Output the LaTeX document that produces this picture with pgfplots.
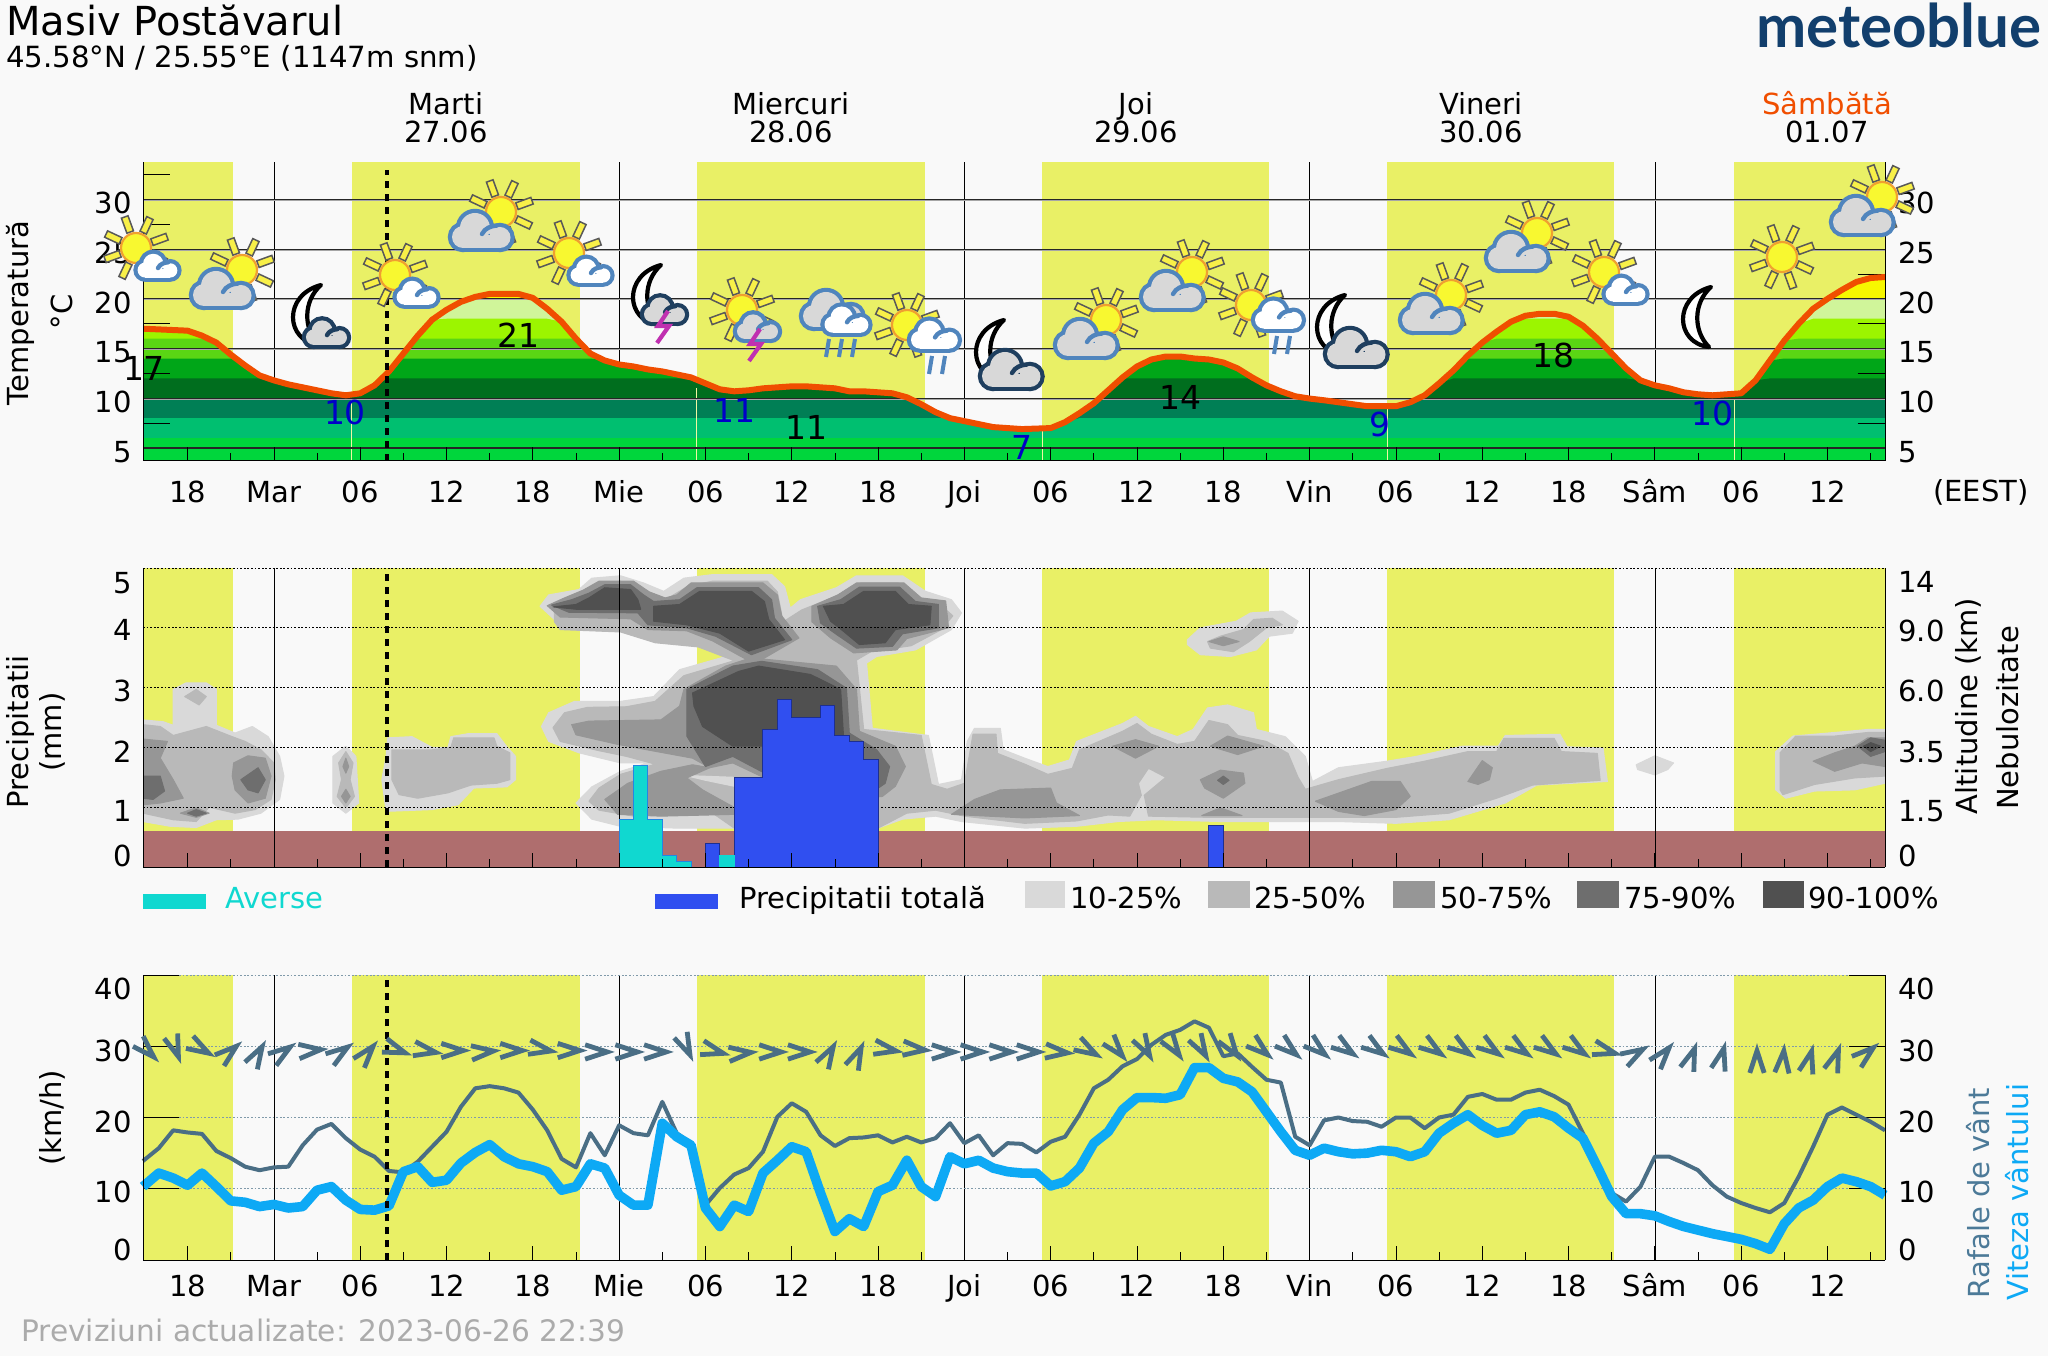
\documentclass[border=0pt]{standalone}
\usepackage{fontspec}
\setmainfont{DejaVu Sans}
\newfontfamily\logofont{Lato}[Scale=1.0]
\usepackage{pgfplots}
\usepackage{pgfplotstable}
\pgfplotsset{compat=1.18}
\definecolor{bgc}{HTML}{F9F9F9}
\definecolor{yband}{HTML}{E9F066}
\definecolor{tline}{HTML}{F04E00}
\definecolor{g1}{HTML}{F7F700}
\definecolor{g2}{HTML}{D0F59A}
\definecolor{g3}{HTML}{9CF500}
\definecolor{g4}{HTML}{5AD614}
\definecolor{g5}{HTML}{00A618}
\definecolor{g6}{HTML}{006E1E}
\definecolor{g7}{HTML}{007F55}
\definecolor{g8}{HTML}{00BF70}
\definecolor{g9}{HTML}{00D63C}
\definecolor{c1}{HTML}{D9D9D9}
\definecolor{c2}{HTML}{B9B9B9}
\definecolor{c3}{HTML}{969696}
\definecolor{c4}{HTML}{6E6E6E}
\definecolor{c5}{HTML}{505050}
\definecolor{brown}{HTML}{AF6E6E}
\definecolor{ptot}{HTML}{304FF0}
\definecolor{psho}{HTML}{10D8D0}
\definecolor{gustc}{HTML}{4A6E85}
\definecolor{windc}{HTML}{0DA9F5}
\definecolor{rafc}{HTML}{4C7A98}
\definecolor{cloudb}{HTML}{5085BD}
\definecolor{cloudd}{HTML}{1F3F5F}
\definecolor{cloudg}{HTML}{D8D8D8}
\definecolor{logoc}{HTML}{123F6D}
\definecolor{boltc}{HTML}{C030B0}
\definecolor{blueval}{HTML}{0000C8}
\definecolor{sunc}{HTML}{F8F830}
\definecolor{sunr}{HTML}{F8F048}
\definecolor{suno}{HTML}{F0A030}

\pgfplotstableread{
h T
-9.1 17.0
-6 16.8
-5 16.3
-4 15.6
-3 14.4
-2 13.3
-1 12.3
0 11.8
1 11.4
2 11.1
3 10.8
4 10.5
5 10.3
6 10.5
7 11.3
8 12.7
9 14.5
10 16.3
11 17.9
12 18.9
13 19.7
14 20.2
15 20.5
16 20.5
17 20.5
18 20.1
19 19.0
20 17.7
21 16.0
22 14.5
23 13.8
24 13.4
25 13.2
26 12.9
27 12.7
28 12.4
29 12.1
30 11.5
31 10.9
32 10.7
33 10.8
34 11.0
35 11.1
36 11.2
37 11.2
38 11.1
39 11.0
40 10.7
41 10.7
42 10.6
43 10.5
44 10.1
45 9.4
46 8.6
47 8.0
48 7.7
49 7.4
50 7.1
51 7.0
52 6.9
53 6.95
54 7.0
55 7.6
56 8.5
57 9.5
58 10.8
59 12.1
60 13.2
61 13.9
62 14.2
63 14.2
64 14.0
65 13.9
66 13.6
67 13.0
68 12.1
69 11.3
70 10.7
71 10.2
72 9.97
73 9.8
74 9.6
75 9.4
76 9.2
77 9.2
78 9.2
79 9.6
80 10.3
81 11.5
82 12.8
83 14.3
84 15.6
85 16.7
86 17.7
87 18.3
88 18.5
89 18.5
90 18.2
91 17.3
92 16.0
93 14.5
94 13.0
95 11.8
96 11.3
97 11.0
98 10.6
99 10.4
100 10.3
101 10.4
102 10.5
103 11.8
104 13.8
105 15.8
106 17.5
107 19.0
108 20.0
109 20.9
110 21.7
111 22.1
112 22.2
}\temptable

\pgfplotstableread{
h gust wind
-9.1 13.9 10.3
-8 15.7 12.2
-7 18.2 11.5
-6 17.9 10.5
-5 17.7 12.2
-4 15.3 10.3
-3 14.3 8.3
-2 13.1 8.1
-1 12.6 7.5
0 13.0 7.8
1 13.1 7.3
2 16.1 7.5
3 18.3 9.8
4 19.1 10.3
5 17.1 8.4
6 15.5 7.1
7 14.5 7.0
8 12.5 7.6
9 12.3 12.4
10 13.8 13.1
11 15.9 10.9
12 18.0 11.2
13 21.5 13.6
14 24.1 15.1
15 24.4 16.2
16 24.1 14.5
17 23.5 13.5
18 21.1 13.1
19 18.2 12.4
20 14.2 9.8
21 13.0 10.3
22 17.8 13.5
23 14.7 12.9
24 18.9 9.1
25 17.8 7.7
26 17.5 7.7
27 22.2 19.2
28 17.8 17.3
29 16.4 16.1
30 7.7 7.3
31 10.1 4.7
32 12.0 7.7
33 12.9 6.8
34 15.2 12.2
35 20.1 14.0
36 22.0 15.9
37 20.8 15.2
38 17.5 9.4
39 16.0 4.0
40 17.1 5.8
41 17.2 4.7
42 17.5 9.6
43 16.5 10.5
44 17.3 14.0
45 16.5 10.3
46 17.1 8.9
47 19.2 14.5
48 16.4 13.5
49 17.5 14.0
50 14.7 12.9
51 16.4 12.4
52 16.3 12.2
53 15.1 12.2
54 16.6 10.4
55 17.3 11.0
56 20.4 12.9
57 24.1 16.4
58 25.3 18.0
59 27.2 21.1
60 28.2 22.8
61 30.2 22.8
62 31.6 22.7
63 32.3 23.2
64 33.5 27.0
65 32.6 27.0
66 28.6 25.5
67 29.0 25.0
68 27.1 23.6
69 25.3 20.8
70 24.9 18.0
71 17.3 15.4
72 16.1 14.7
73 19.6 15.7
74 20.0 15.2
75 19.5 14.9
76 19.4 15.0
77 18.7 15.4
78 20.0 15.2
79 20.0 14.5
80 18.5 15.2
81 20.0 17.8
82 20.4 19.2
83 22.9 20.4
84 23.3 18.9
85 22.5 17.8
86 22.5 18.2
87 23.5 20.4
88 23.9 20.8
89 23.0 20.1
90 21.8 18.5
91 17.8 17.1
92 13.6 13.1
93 9.4 8.9
94 8.2 6.5
95 10.3 6.5
96 14.5 6.2
97 14.5 5.4
98 13.6 4.7
99 12.6 4.2
100 10.5 3.7
101 8.9 3.3
102 8.0 2.9
103 7.3 2.3
104 6.7 1.5
105 8.0 5.1
106 11.7 7.3
107 15.9 8.4
108 20.4 10.3
109 21.4 11.5
110 20.4 11.0
111 19.4 10.3
112 18.2 9.1
}\windtable

\pgfplotstableread{
h y a
-8.9 29.6 -45
-6.9 30.0 -70
-5.2 29.8 -30
-3.2 29.0 40
-1.2 28.6 60
0.5 29.0 35
2.5 29.4 5
4.5 29.0 35
6.4 28.8 50
8.4 29.6 -20
10.5 29.4 -10
12.4 29.4 0
14.5 29.2 5
16.5 29.4 0
18.5 29.6 -10
20.5 29.4 0
22.4 29.2 0
24.5 29.2 0
26.5 29.2 0
28.6 30.2 -65
30.5 29.4 -15
32.4 29.0 5
34.5 29.2 0
36.5 29.2 0
38.5 28.6 60
40.5 28.4 65
42.5 29.6 -10
44.5 29.6 -5
46.5 29.2 0
48.5 29.2 0
50.5 29.2 0
52.4 29.2 0
54.4 29.2 -5
56.5 29.6 -30
58.5 29.8 -50
60.5 30.0 -60
62.5 30.0 -55
64.4 30.0 -60
66.5 30.0 -55
68.5 29.8 -40
70.5 29.8 -40
72.5 29.8 -40
74.4 29.8 -35
76.5 29.8 -35
78.4 29.8 -35
80.5 29.8 -35
82.5 29.8 -35
84.5 29.8 -35
86.5 29.8 -35
88.5 29.8 -35
90.5 29.8 -35
92.5 29.4 -15
94.5 28.8 30
96.5 28.6 50
98.5 28.2 70
100.6 28.2 75
103.1 27.8 90
104.9 27.8 85
106.7 27.8 75
108.5 28.0 70
110.6 28.8 40
}\chevtable

\pgfdeclareplotmark{chev}{%
  \pgfpathmoveto{\pgfpoint{-5.5pt}{3.6pt}}%
  \pgfpathlineto{\pgfpoint{5.5pt}{0pt}}%
  \pgfpathlineto{\pgfpoint{-5.5pt}{-3.6pt}}%
  \pgfusepathqstroke}

\pgfplotsset{
  base/.style={scale only axis,width=871pt,xmin=-9.1,xmax=112,anchor=south west,
    axis on top,tick align=inside,
    axis line style={black,line width=.5pt},
    tick label style={font=\fontsize{14.5}{16}\selectfont},
    xtick={-6,0,6,12,18,24,30,36,42,48,54,60,66,72,78,84,90,96,102,108},
    xticklabels={18,Mar,06,12,18,Mie,06,12,18,Joi,06,12,18,Vin,06,12,18,Sâm,06,12},
    minor xtick={-3,3,9,15,21,27,33,39,45,51,57,63,69,75,81,87,93,99,105,111},
    major tick length=7pt,minor tick length=4pt,
    xtick style={black,line width=.4pt},
    minor x tick style={black,line width=.4pt},
    ytick style={draw=none},
    yticklabel style={inner sep=0pt,anchor=east,xshift=-5.5pt},
    xticklabel style={inner sep=0pt,anchor=north,text height=10.5pt,text depth=0pt},
    axis x line*=bottom,axis y line*=left},
  rightax/.style={scale only axis,width=871pt,xmin=-9.1,xmax=112,anchor=south west,
    axis x line=none,axis y line*=right,
    axis line style={black,line width=.5pt},
    tick label style={font=\fontsize{14.5}{16}\selectfont},
    ytick style={draw=none},
    yticklabel style={inner sep=0pt,anchor=west,xshift=6.5pt}}
}
\newcommand\yb[2]{\addplot[fill=yband,draw=none,forget plot] coordinates {(#1,\yl)(#2,\yl)(#2,\yh)(#1,\yh)} --cycle;}
\newcommand\ybands{\yb{-9.1}{-2.85}\yb{5.4}{21.26}\yb{29.4}{45.25}\yb{53.4}{69.2}\yb{77.4}{93.15}\yb{101.5}{112}}
\newcommand\vl[1]{\addplot[black,line width=.35pt,forget plot] coordinates {(#1,\yl)(#1,\yh)};}
\newcommand\vls{\vl{0}\vl{24}\vl{48}\vl{72}\vl{96}}
\tikzset{nowstyle/.style={black,line width=1.7pt,dash pattern=on 3.5pt off 3pt}}
\newcommand\cl[2]{\addplot[fill=#1,draw=#1,line width=.5pt,line join=round,forget plot] coordinates {#2} --cycle;}
\newcommand\hl[2]{\addplot[#2,forget plot] coordinates {(-9.1,#1)(112,#1)};}
\newcommand\area[2]{\addplot[fill=#1,draw=none,forget plot] table[x=h,y expr={min(\thisrow{T},#2)}] {\temptable} \closedcycle;}

% icons (pixel frame of the picture)
\newcommand\sunic[3][1]{\begin{scope}[shift={(#2,#3)},scale=#1]
  \foreach \a in {20,65,...,335}{\filldraw[rotate=\a,fill=sunr,draw=black!65,line width=.75pt] (17,-3.5) rectangle (33,3.5);}
  \filldraw[fill=sunc,draw=suno,line width=1.1pt] (0,0) circle (15);
\end{scope}}
% #1 x, #2 y, #3 scale, #4 fill, #5 stroke; the stroke shows only outside the fill
\newcommand\cloudic[5]{\begin{scope}[shift={(#1,#2)},scale=#3]
  \draw[#5,line width=4.2pt] (-7,-3) circle (15);
  \draw[#5,line width=4.2pt] (18,6.5) circle (10.5);
  \draw[#5,line width=4.2pt] (-19,6) circle (11);
  \draw[#5,line width=4.2pt] (-19,17) -- (18,17);
  \fill[#4] (-7,-3) circle (15);
  \fill[#4] (18,6.5) circle (10.5);
  \fill[#4] (-19,6) circle (11);
  \fill[#4] (-19,4) rectangle (18,17);
  \fill[#4] (-7,-3) -- (18,-4) -- (18,7) -- cycle;
  \draw[#5,line width=2.2pt,line cap=round] (0,3) .. controls (3,-3) and (9,-5) .. (15,-5.5);
\end{scope}}
\newcommand\moonic[2]{\begin{scope}[shift={(#1,#2)}]
  \filldraw[fill=white,draw=black,line width=2.1pt,line join=round] (14,-30) .. controls (-24,-20) and (-22,26) .. (12,30) .. controls (-4,14) and (-4,-14) .. cycle;
\end{scope}}
\newcommand\boltic[2]{\draw[boltc,line width=2.1pt,line join=miter] (#1+5,#2-16) -- (#1-5,#2-1) -- (#1+6,#2-1) -- (#1-6,#2+16);}
\newcommand\rainic[3]{\foreach \i in {1,...,#3}{\draw[cloudb,line width=2pt] (#1+\i*13-7*#3-5,#2-9) -- (#1+\i*13-7*#3-8,#2+9);}}
\newcommand\ta[2]{\sunic{#1}{#2}\cloudic{#1+22}{#2+18}{.68}{white}{cloudb}}
\newcommand\tb[2]{\sunic{#1}{#2}\cloudic{#1-19}{#2+19}{1}{cloudg}{cloudb}}

\begin{document}
\begin{tikzpicture}[x=1pt,y=1pt]
\useasboundingbox (0,0) rectangle (1024,678);
\fill[bgc] (0,0) rectangle (1024,678);

% ---------- temperature panel ----------
\def\yl{3.69}\def\yh{33.77}
\begin{axis}[base,at={(71.5pt,447.5pt)},height=149.5pt,ymin=3.69,ymax=33.77,
  ytick={4.6,9.6,14.6,19.6,24.6,29.6},yticklabels={5,10,15,20,25,30},
  xticklabel style={yshift=-10pt}]
\ybands
\vls
\area{g1}{100}\area{g2}{20}\area{g3}{18}\area{g4}{16}\area{g5}{14}\area{g6}{12}\area{g7}{10}\area{g8}{8}\area{g9}{6}
\addplot[yband!60!white,line width=.4pt,forget plot] coordinates {(5.4,3.7)(5.4,9.8)};
\addplot[yband!60!white,line width=.4pt,forget plot] coordinates {(29.4,3.7)(29.4,11)};
\addplot[yband!60!white,line width=.4pt,forget plot] coordinates {(53.4,3.7)(53.4,6.9)};
\addplot[yband!60!white,line width=.4pt,forget plot] coordinates {(77.4,3.7)(77.4,8.9)};
\addplot[yband!60!white,line width=.4pt,forget plot] coordinates {(101.5,3.7)(101.5,10)};
\hl{4.9}{gray!70,line width=.5pt}\hl{9.9}{gray!70,line width=.5pt}\hl{14.9}{gray!70,line width=.5pt}\hl{19.9}{gray!70,line width=.5pt}\hl{24.9}{gray!70,line width=.5pt}\hl{29.9}{gray!70,line width=.5pt}
\hl{5}{black!85,line width=.6pt}\hl{10}{black!85,line width=.6pt}\hl{15}{black!85,line width=.6pt}\hl{20}{black!85,line width=.6pt}\hl{25}{black!85,line width=.6pt}\hl{30}{black!85,line width=.6pt}
\addplot[black,line width=.4pt,forget plot] coordinates {(-9.1,7.5)(-7.2,7.5)};
\addplot[black,line width=.4pt,forget plot] coordinates {(-9.1,12.5)(-7.2,12.5)};
\addplot[black,line width=.4pt,forget plot] coordinates {(-9.1,17.5)(-7.2,17.5)};
\addplot[black,line width=.4pt,forget plot] coordinates {(-9.1,22.5)(-7.2,22.5)};
\addplot[black,line width=.4pt,forget plot] coordinates {(-9.1,27.5)(-7.2,27.5)};
\addplot[black,line width=.4pt,forget plot] coordinates {(-9.1,32.5)(-7.2,32.5)};
\addplot[black,line width=.4pt,forget plot] coordinates {(110.1,7.5)(112,7.5)};
\addplot[black,line width=.4pt,forget plot] coordinates {(110.1,12.5)(112,12.5)};
\addplot[black,line width=.4pt,forget plot] coordinates {(110.1,17.5)(112,17.5)};
\addplot[black,line width=.4pt,forget plot] coordinates {(110.1,22.5)(112,22.5)};
\addplot[tline,line width=3pt,line join=round,forget plot] table[x=h,y=T] {\temptable};
\addplot[nowstyle,forget plot] coordinates {(7.86,3.69)(7.86,33)};
\end{axis}
\begin{axis}[rightax,at={(71.5pt,447.5pt)},height=149.5pt,ymin=3.69,ymax=33.77,
  ytick={4.6,9.6,14.6,19.6,24.6,29.6},yticklabels={5,10,15,20,25,30}]
\end{axis}

% ---------- precipitation / cloud panel ----------
\def\yl{0}\def\yh{5}
\begin{axis}[base,at={(71.5pt,244.5pt)},height=149.5pt,ymin=0,ymax=5,
  ytick={0.18,0.93,1.93,2.94,3.97,4.75},yticklabels={0,1,2,3,4,5},
  xticklabels={}]
\ybands
% 10-25 %
\cl{c1}{(-9.1,2.46)(-7.7,2.43)(-7,2.37)(-7,2.97)(-6.1,3.08)(-4.7,3.08)(-4,2.97)(-4,2.37)(-2.7,2.24)(-1.5,2.35)(-0.4,2.18)(0.4,1.85)(0.7,1.52)(0.4,1.13)(-0.9,0.9)(-2.5,0.8)(-4,0.79)(-5.4,0.66)(-7.2,0.68)(-9.1,0.76)}
\cl{c1}{(4.1,1.85)(5,2.02)(5.7,1.85)(5.9,1.07)(5,0.9)(4.1,1.07)(4.1,1.46)}
\cl{c1}{(7.9,2.16)(9.6,2.18)(11,2.0)(12.1,2.0)(12.3,2.18)(13.5,2.23)(15.5,2.23)(16.2,2.01)(16.8,1.85)(16.8,1.46)(16.2,1.34)(13.9,1.32)(12.8,1.04)(11,0.96)(7.8,0.93)(7.5,1.46)(7.8,1.85)}
\cl{c1}{(18.5,4.36)(19.1,4.55)(21.2,4.64)(22.1,4.83)(24.1,4.87)(25.7,4.75)(27.1,4.61)(28.5,4.83)(30.5,4.89)(34.6,4.89)(35.5,4.69)(35.9,4.33)(36.6,4.47)(39.1,4.67)(40.5,4.87)(43.7,4.87)(45.3,4.61)(47.1,4.47)(47.8,4.25)(47.1,3.97)(44.6,3.63)(41.9,3.52)(41.2,3.41)(41.6,2.32)(45.5,2.2)(46.2,1.38)(47.8,1.46)(48.2,2.1)(48.7,2.32)(50.5,2.32)(50.7,1.96)(52.2,1.82)(53.8,1.68)(55.3,1.79)(55.8,2.1)(59,2.4)(59.9,2.52)(60.8,2.35)(62.8,2.18)(63.9,2.3)(64.9,2.66)(66.3,2.71)(68.1,2.58)(68.3,2.3)(70.3,2.18)(71.7,1.85)(72.2,1.43)(74,1.66)(77.4,1.77)(79.4,1.85)(82.6,2.02)(85.1,2.02)(85.6,2.2)(89.4,2.22)(89.9,2.01)(92.4,1.99)(92.7,1.43)(87.8,1.37)(85.6,1.07)(81.7,0.79)(78,0.73)(74,0.76)(70.3,0.76)(65.8,0.76)(61.3,0.79)(58.7,0.76)(55.8,0.68)(52.2,0.65)(47.8,0.76)(46,0.85)(43.7,0.8)(42,0.65)(34,0.65)(28,0.65)(24.1,0.68)(22.1,0.8)(21,1.07)(22.1,1.34)(24.1,1.6)(26,1.74)(24.1,1.74)(21.2,1.91)(19.1,2.1)(18.6,2.35)(19.1,2.58)(20.9,2.77)(24.1,2.77)(26.4,2.85)(28.2,3.3)(31.4,3.52)(29.3,3.75)(26.4,3.83)(24.1,4.02)(19.9,4.05)}
\cl{c1}{(63.5,3.8)(64.4,4)(66.9,4.11)(67.9,4.25)(70.1,4.28)(71.2,4.11)(70.8,3.91)(69.2,3.86)(68.3,3.63)(66.5,3.52)(64.4,3.55)(63.5,3.72)}
\cl{c1}{(94.7,1.71)(96,1.86)(97.3,1.74)(96.9,1.63)(96,1.54)(94.8,1.63)}
\cl{c1}{(104.4,1.93)(105.6,2.19)(108.5,2.25)(110.8,2.3)(112,2.3)(112,1.4)(109.9,1.29)(107.1,1.27)(105.1,1.15)(104.4,1.29)}
% 25-50 %
\cl{c2}{(-9.1,2.38)(-7.9,2.35)(-7,2.2)(-4.7,2.35)(-2.9,2.18)(-2,2.1)(-0.9,1.96)(0,1.74)(0.1,1.46)(-0.2,1.13)(-1.3,0.96)(-2.7,0.9)(-4.5,1.0)(-5.4,0.76)(-7,0.79)(-9.1,0.9)}
\cl{c2}{(-6.2,2.85)(-5.4,2.97)(-4.7,2.85)(-5.2,2.71)}
\cl{c2}{(4.5,1.74)(5,1.93)(5.5,1.74)(5.3,1.46)(5.6,1.18)(5,0.99)(4.4,1.18)(4.7,1.46)}
\cl{c2}{(8.2,1.96)(11,1.96)(12.3,2.0)(12.5,2.16)(15.3,2.16)(15.5,2.02)(16.4,1.91)(16.4,1.46)(15.5,1.4)(13.7,1.37)(12.1,1.24)(10,1.15)(8.7,1.21)(8.2,1.46)}
\cl{c2}{(19.5,4.36)(20.4,4.47)(21.8,4.55)(22.8,4.75)(24.1,4.78)(25.5,4.6)(27.1,4.45)(28.8,4.7)(30.5,4.78)(34.3,4.78)(35,4.6)(35.4,4.1)(36.7,4.3)(39.3,4.55)(40.8,4.75)(43.4,4.75)(44.9,4.5)(46.5,4.35)(47.2,4.2)(46.4,3.97)(44.3,3.7)(41.5,3.6)(40.5,3.46)(41,2.3)(45,2.2)(45.7,1.38)(46.8,1.3)(48,1.4)(48.6,2.22)(50.2,2.22)(50.3,1.9)(52.2,1.72)(53.8,1.55)(55.5,1.65)(56,1.96)(59,2.27)(60,2.4)(61,2.22)(62.8,2.05)(64,2.1)(65,2.45)(66.3,2.38)(67,2.2)(69,2.1)(70.5,1.9)(71.2,1.5)(71.7,1.3)(74,1.46)(77.4,1.65)(80,1.77)(83,1.93)(85,1.93)(85.5,2.15)(89,2.15)(89.5,1.93)(92,1.9)(92.2,1.45)(87.5,1.37)(85,1.15)(81.7,0.9)(78,0.83)(74,0.83)(70.3,0.83)(65,0.83)(60.8,0.85)(60.5,1.2)(62,1.5)(60.8,1.65)(60.1,1.4)(60.3,1.2)(59.5,0.85)(58,0.87)(55.8,0.77)(52.2,0.73)(48,0.85)(46,0.95)(44,0.9)(42,0.65)(32,0.65)(30.5,0.9)(25,0.85)(22.6,0.95)(21.9,1.1)(22.6,1.32)(24.1,1.55)(26.5,1.72)(24.5,1.85)(22.5,1.95)(19.9,2.1)(19.4,2.33)(20.2,2.58)(21.8,2.67)(24.5,2.68)(26.5,2.77)(28.5,3.2)(32,3.45)(29.5,3.68)(26.5,3.75)(24.1,3.93)(19.9,3.97)(19.5,4.1)}
\cl{c1}{(28.6,1.53)(32,1.5)(32,1.35)(30,1.45)}
\cl{c2}{(64.9,3.77)(65.8,3.86)(67.4,3.97)(68.1,4.14)(69.4,4.16)(70.1,4.05)(69,4)(67.8,3.77)(66.7,3.6)(65.1,3.66)}
\cl{c2}{(104.7,1.91)(105.8,2.19)(108.5,2.19)(110.8,2.25)(112,2.25)(112,1.52)(109.9,1.49)(107.1,1.38)(104.9,1.21)(104.7,1.29)}
% 50-75 %
\cl{c3}{(-9.1,2.14)(-7.4,2.1)(-7.9,1.82)(-7,1.46)(-6.3,1.15)(-7.9,1.07)(-9.1,1.04)}
\cl{c3}{(-2.8,1.74)(-1.8,1.86)(-0.6,1.82)(-0.2,1.52)(-0.6,1.15)(-1.8,1.07)(-2.7,1.29)(-2.9,1.52)}
\cl{c3}{(-6.5,0.9)(-5.4,0.99)(-4.5,0.9)(-5.4,0.83)}
\cl{c3}{(4.8,1.68)(5,1.82)(5.2,1.68)(5,1.57)}
\cl{c3}{(4.7,1.18)(5,1.3)(5.3,1.18)(5,1.07)}
\cl{c3}{(19,4.37)(20.2,4.5)(21.5,4.63)(22.6,4.78)(25,4.78)(26.1,4.6)(27.2,4.5)(28,4.55)(29,4.75)(34,4.75)(35,4.55)(35.3,4.2)(36.5,3.83)(34,3.48)(33,3.45)(30.5,3.78)(28.7,3.95)(26,3.97)(24.8,4.15)(19.9,4.18)}
\cl{c3}{(37.4,4.36)(39.2,4.55)(40.5,4.75)(43.8,4.75)(45,4.5)(46.7,4.45)(46.9,4.0)(44,3.82)(43.3,3.63)(40.3,3.58)(38.7,3.83)(37.4,4.1)}
\cl{c3}{(20.7,2.38)(21.9,2.44)(26.9,2.46)(28.2,2.69)(28.5,2.97)(31.4,3.36)(32.8,3.47)(33.9,3.48)(39.1,3.36)(40.5,2.97)(40.7,2.27)(43.2,2.02)(43.9,1.68)(43.2,1.35)(42.3,1.18)(37.8,1.07)(31.9,1.74)(30.3,1.66)(29.1,1.82)(23.9,2.05)(21,2.21)}
\cl{c3}{(24.6,1.4)(26.9,1.6)(29.1,1.71)(30.3,1.66)(28.7,1.49)(29.8,1.29)(31.9,1.01)(32,0.88)(26.9,0.85)(23.9,0.88)(23,1.13)}
\cl{c3}{(47.1,0.88)(48.7,1.13)(50.5,1.29)(54,1.32)(54.4,1.07)(56,0.86)(52.2,0.82)}
\cl{c3}{(58.3,2.02)(59.9,2.13)(61.5,2.02)(59.9,1.82)}
\cl{c3}{(65.1,2.02)(66.3,2.19)(68.8,2.02)(67,1.88)}
\cl{c3}{(64.4,1.46)(65.8,1.62)(67.4,1.57)(67.5,1.4)(66,1.15)(64.7,1.32)}
\cl{c3}{(64.5,0.86)(65.8,0.99)(67.3,0.86)}
\cl{c3}{(65,3.77)(66,3.85)(67.1,3.77)(66,3.7)}
\cl{c3}{(72.4,1.1)(76.3,1.43)(78.3,1.43)(79,1.18)(78,0.96)(75.8,0.86)(74,0.93)}
\cl{c3}{(83,1.43)(84,1.78)(84.7,1.66)(84.5,1.46)(83.7,1.38)}
\cl{c3}{(107,1.77)(108.5,1.91)(109.9,2.02)(110.8,2.16)(112,2.16)(112,1.68)(110.4,1.74)(108.5,1.6)}
% 75-90 %
\cl{c4}{(-9.1,1.52)(-7.9,1.52)(-7.6,1.27)(-8.4,1.13)(-9.1,1.15)}
\cl{c4}{(-2.3,1.46)(-1.1,1.66)(-0.6,1.46)(-1.1,1.24)(-1.8,1.29)}
\cl{c4}{(-6,0.9)(-5.4,0.96)(-4.7,0.9)(-5.4,0.85)}
\cl{c4}{(19.3,4.38)(20.7,4.47)(21.9,4.58)(23,4.72)(24.8,4.72)(25.7,4.55)(26.4,4.44)(28.2,4.47)(29.4,4.67)(33.7,4.67)(34.6,4.47)(34.8,4.16)(36,3.8)(33.2,3.55)(30.7,3.86)(28.7,4.0)(26,4.05)(25.3,4.25)(20.5,4.26)}
\cl{c4}{(37.8,4.36)(39.4,4.47)(40.7,4.68)(43.5,4.68)(44.6,4.44)(46.2,4.39)(46.2,4.0)(43.7,3.9)(43,3.69)(40.5,3.66)(39.1,3.89)(38,4.08)}
\cl{c4}{(28.7,2.97)(31.9,3.36)(33.9,3.44)(37.8,3.3)(39.8,2.99)(40,2.24)(41.9,1.96)(42.8,1.68)(42.5,1.4)(41.9,1.3)(37.8,1.1)(31.9,1.85)(30,1.68)(28.7,2.19)}
\cl{c4}{(65.6,1.45)(66,1.52)(66.4,1.45)(66,1.38)}
\cl{c4}{(110.1,2.02)(111,2.16)(112,2.12)(112,1.93)(111,1.85)}
% 90-100 %
\cl{c5}{(19.4,4.35)(21,4.39)(21.9,4.5)(23,4.67)(24.8,4.64)(25.3,4.47)(25.5,4.31)(21,4.31)}
\cl{c5}{(26.4,4.36)(28.2,4.39)(29.6,4.61)(33.2,4.61)(34.1,4.44)(34.4,4.14)(35.5,3.8)(33,3.61)(31,3.91)(28.7,4.05)(26.4,4.11)}
\cl{c5}{(38.2,4.36)(39.6,4.39)(41,4.61)(43.2,4.61)(44.1,4.39)(45.7,4.36)(45.6,4.05)(43.2,3.97)(42.5,3.75)(40.7,3.72)(39.6,3.94)(38.7,4.11)}
\cl{c5}{(29.1,2.91)(32.3,3.27)(33.7,3.36)(37.3,3.22)(39.4,2.97)(39.6,2.19)(34.1,2.02)(31.9,2.02)(29.8,2.35)(29.2,2.69)}
\cl{c5}{(110.5,2.02)(111,2.08)(111.7,2.02)(111,1.93)}
\vls
\hl{1}{black,line width=.5pt,dash pattern=on .9pt off .9pt}
\hl{2}{black,line width=.5pt,dash pattern=on .9pt off .9pt}
\hl{3}{black,line width=.5pt,dash pattern=on .9pt off .9pt}
\hl{4}{black,line width=.5pt,dash pattern=on .9pt off .9pt}
\hl{4.99}{black,line width=.5pt,dash pattern=on .9pt off .9pt}
\addplot[fill=brown,draw=none,forget plot] coordinates {(-9.1,0)(112,0)(112,0.6)(-9.1,0.6)} --cycle;
\vls
\addplot[const plot mark left,fill=ptot,draw=ptot!60!black,line width=.5pt,forget plot] coordinates {(24,0.8)(25,1.69)(26,0.8)(27,0.2)(28,0.1)(29,0)(30,0.4)(31,0.2)(32,1.49)(34,2.3)(35,2.8)(36,2.5)(38,2.7)(39,2.2)(40,2.1)(41,1.8)(42,1.8)} \closedcycle;
\addplot[const plot mark left,fill=ptot,draw=ptot!60!black,line width=.5pt,forget plot] coordinates {(65,0.69)(66,0.69)} \closedcycle;
\addplot[const plot mark left,fill=psho,draw=ptot!60!psho,line width=.5pt,forget plot] coordinates {(24,0.8)(25,1.69)(26,0.8)(27,0.2)(28,0.1)(29,0.1)} \closedcycle;
\addplot[const plot mark left,fill=psho,draw=psho,line width=.5pt,forget plot] coordinates {(31,0.2)(32,0.2)} \closedcycle;
\addplot[nowstyle,forget plot] coordinates {(7.86,0)(7.86,5)};
\end{axis}
\begin{axis}[rightax,at={(71.5pt,244.5pt)},height=149.5pt,ymin=0,ymax=5,
  ytick={0.18,0.93,1.93,2.94,3.94,4.77},yticklabels={0,1.5,3.5,6.0,9.0,14}]
\end{axis}

% ---------- wind panel ----------
\def\yl{0}\def\yh{40}
\begin{axis}[base,at={(71.5pt,48pt)},height=142.5pt,ymin=0,ymax=40,clip=false,
  ytick={1.4,9.6,19.4,29.4,38.1},yticklabels={0,10,20,30,40},
  xticklabel style={yshift=-7.5pt}]
\ybands
\vls
\hl{10}{gustc!70,line width=.4pt,dash pattern=on .9pt off .9pt}
\hl{20}{gustc!70,line width=.4pt,dash pattern=on .9pt off .9pt}
\hl{30}{gustc!70,line width=.4pt,dash pattern=on .9pt off .9pt}
\hl{40}{gustc!70,line width=.4pt,dash pattern=on .9pt off .9pt}
\addplot[black,line width=.5pt,forget plot] coordinates {(-9.1,10)(-6.6,10)};
\addplot[black,line width=.5pt,forget plot] coordinates {(-9.1,20)(-6.6,20)};
\addplot[black,line width=.5pt,forget plot] coordinates {(-9.1,30)(-6.6,30)};
\addplot[black,line width=.5pt,forget plot] coordinates {(-9.1,40)(-6.6,40)};
\addplot[black,line width=.5pt,forget plot] coordinates {(109.5,10)(112,10)};
\addplot[black,line width=.5pt,forget plot] coordinates {(109.5,20)(112,20)};
\addplot[black,line width=.5pt,forget plot] coordinates {(109.5,30)(112,30)};
\addplot[black,line width=.5pt,forget plot] coordinates {(109.5,40)(112,40)};
\addplot[gustc,line width=2pt,line join=round,forget plot] table[x=h,y=gust] {\windtable};
\addplot[windc,line width=4.8pt,line join=round,forget plot] table[x=h,y=wind] {\windtable};
\addplot[scatter,only marks,mark=chev,forget plot,line width=2.4pt,
  scatter/use mapped color={draw=gustc,fill=gustc},
  visualization depends on={\thisrow{a} \as \ang},
  scatter/@pre marker code/.append style={/tikz/rotate=\ang}]
  table[x=h,y=y] {\chevtable};
\addplot[nowstyle,forget plot] coordinates {(7.86,0)(7.86,40)};
\end{axis}
\begin{axis}[rightax,at={(71.5pt,48pt)},height=142.5pt,ymin=0,ymax=40,
  ytick={1.4,9.6,19.4,29.4,38.1},yticklabels={0,10,20,30,40}]
\end{axis}

% ---------- pixel frame: icons and texts ----------
\begin{scope}[shift={(0,678)},x=.5pt,y=-.5pt]
\ta{136}{248}
\tb{242}{270}
\moonic{307}{315}\cloudic{327}{333}{.7}{cloudg}{cloudd}
\ta{395}{275}
\tb{501}{212}
\ta{569}{253}
\moonic{647}{295}\cloudic{665}{310}{.7}{cloudg}{cloudd}\boltic{663}{327}
\sunic{742}{310}\cloudic{758}{327}{.7}{cloudg}{cloudb}\boltic{755}{345}
\cloudic{833}{310}{1}{cloudg}{cloudb}\cloudic{847}{320}{.75}{white}{cloudb}\rainic{842}{348}{3}
\sunic{907}{325}\cloudic{935}{335}{.8}{white}{cloudb}\rainic{938}{365}{2}
\moonic{990}{350}\cloudic{1012}{370}{1}{cloudg}{cloudd}
\tb{1106}{320}
\tb{1192}{272}
\sunic{1251}{305}\cloudic{1279}{315}{.8}{white}{cloudb}\rainic{1283}{345}{2}
\moonic{1331}{325}\cloudic{1357}{348}{1}{cloudg}{cloudd}
\tb{1451}{295}
\tb{1537}{233}
\ta{1604}{272}
\moonic{1697}{317}
\sunic{1782}{257}
\tb{1882}{197}

\tikzset{big/.style={font=\fontsize{14.5}{16}\selectfont,inner sep=0pt},
         val/.style={font=\fontsize{16.5}{18}\selectfont,inner sep=0pt,anchor=center}}
\node[val] at (144,368) {17};
\node[val] at (518,335) {21};
\node[val,blueval] at (345,412) {10};
\node[val,blueval] at (734,410) {11};
\node[val] at (806,427) {11};
\node[val,blueval] at (1022,447) {7};
\node[val] at (1180,397) {14};
\node[val,blueval] at (1380,424) {9};
\node[val] at (1553,355) {18};
\node[val,blueval] at (1712,413) {10};

\node[anchor=base west,inner sep=0pt,font=\fontsize{20}{22}\selectfont] at (6,36) {Masiv Postăvarul};
\node[anchor=base west,inner sep=0pt,font=\fontsize{14.6}{16}\selectfont] at (6,68) {45.58°N / 25.55°E (1147m snm)};
\node[anchor=base east,inner sep=0pt,text=logoc,font=\logofont\bfseries\fontsize{30}{32}\selectfont] at (2042,48) {meteoblue};

\node[big,anchor=base] at (446,115) {Marti};
\node[big,anchor=base] at (446,143) {27.06};
\node[big,anchor=base] at (791,115) {Miercuri};
\node[big,anchor=base] at (791,143) {28.06};
\node[big,anchor=base] at (1136,115) {Joi};
\node[big,anchor=base] at (1136,143) {29.06};
\node[big,anchor=base] at (1481,115) {Vineri};
\node[big,anchor=base] at (1481,143) {30.06};
\node[big,anchor=base,text=tline] at (1827,115) {Sâmbătă};
\node[big,anchor=base] at (1827,143) {01.07};
\node[big,anchor=base] at (1981,502) {(EEST)};

\node[big,rotate=90] at (20,313) {Temperatură};
\node[big,rotate=90] at (62,312) {°C};
\node[big,rotate=90] at (20,732) {Precipitatii};
\node[big,rotate=90] at (52,732) {(mm)};
\node[big,rotate=90] at (52,1118) {(km/h)};
\node[big,rotate=90] at (1968,706) {Altitudine (km)};
\node[big,rotate=90] at (2008,718) {Nebulozitate};
\node[big,rotate=90,text=rafc] at (1978,1193) {Rafale de vânt};
\node[big,rotate=90,text=windc] at (2017,1192) {Viteza vântului};
\node[anchor=base west,inner sep=0pt,text=black!33,font=\fontsize{14.8}{16}\selectfont] at (21,1341) {Previziuni actualizate: 2023-06-26 22:39};

\fill[psho] (143,894) rectangle (206,909);
\node[big,anchor=base west,text=psho] at (225,908) {Averse};
\fill[ptot] (655,894) rectangle (718,909);
\node[big,anchor=base west] at (739,908) {Precipitatii totală};
\fill[c1] (1025,881) rectangle (1065,908);
\node[big,anchor=base west] at (1070,908) {10-25\%};
\fill[c2] (1208,881) rectangle (1250,908);
\node[big,anchor=base west] at (1254,908) {25-50\%};
\fill[c3] (1393,881) rectangle (1435,908);
\node[big,anchor=base west] at (1440,908) {50-75\%};
\fill[c4] (1577,881) rectangle (1619,908);
\node[big,anchor=base west] at (1624,908) {75-90\%};
\fill[c5] (1763,881) rectangle (1804,908);
\node[big,anchor=base west] at (1808,908) {90-100\%};
\end{scope}
\end{tikzpicture}
\end{document}
